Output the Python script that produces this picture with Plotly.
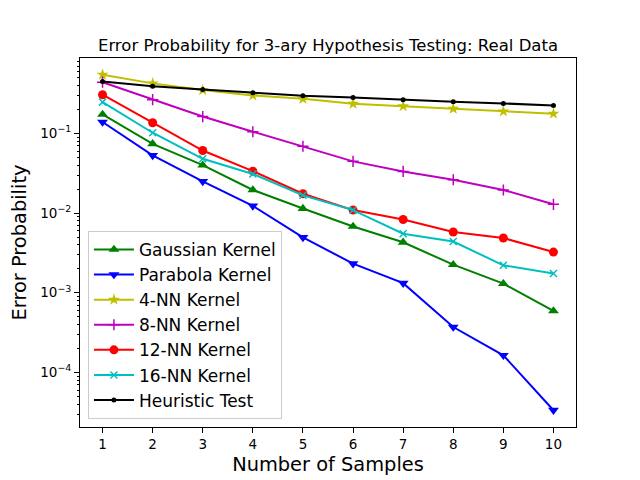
import plotly.graph_objects as go
import numpy as np

samples = [1, 2, 3, 4, 5, 6, 7, 8, 9, 10]
gaussian = [0.173, 0.074, 0.040, 0.0195, 0.0114, 0.0068, 0.0043, 0.00225, 0.0013, 0.00059]
parabola = [0.139, 0.053, 0.025, 0.0123, 0.00495, 0.00232, 0.00132, 0.000371, 0.000164, 0.0000335]
nn4 = [0.545, 0.425, 0.35, 0.30, 0.272, 0.236, 0.22, 0.204, 0.189, 0.177]
nn8 = [0.44, 0.265, 0.163, 0.105, 0.069, 0.0446, 0.0333, 0.0262, 0.0195, 0.0129]
nn12 = [0.306, 0.136, 0.061, 0.0336, 0.0175, 0.0109, 0.0083, 0.00578, 0.00486, 0.00324]
nn16 = [0.247, 0.102, 0.048, 0.031, 0.0167, 0.0109, 0.0055, 0.0044, 0.00221, 0.00174]
heuristic = [0.45, 0.39, 0.356, 0.324, 0.297, 0.283, 0.265, 0.25, 0.238, 0.224]

series = [
    ("Gaussian Kernel", gaussian, "#008000", "triangle-up", 9.5, 0),
    ("Parabola Kernel", parabola, "#0000ff", "triangle-down", 9.5, 0),
    ("4-NN Kernel", nn4, "#bfbf00", "star", 9, 0),
    ("8-NN Kernel", nn8, "#bf00bf", "cross-thin-open", 8, 1.5),
    ("12-NN Kernel", nn12, "#ff0000", "circle", 9, 0),
    ("16-NN Kernel", nn16, "#00bfbf", "x-thin-open", 7, 1.5),
    ("Heuristic Test", heuristic, "#000000", "circle", 5, 0),
]

fig = go.Figure()
for name, vals, col, sym, sz, lw in series:
    fig.add_trace(go.Scatter(
        x=samples, y=vals, name=name, mode="lines+markers",
        line=dict(color=col, width=2),
        marker=dict(symbol=sym, size=sz, color=col, line=dict(color=col, width=lw)),
    ))

allv = np.concatenate([np.log10(v) for _, v, *_ in series])
lo, hi = allv.min(), allv.max()
m = 0.05 * (hi - lo)

major = [1e-4, 1e-3, 1e-2, 1e-1]
minor_vals = [k * 10.0 ** e for e in range(-5, 0) for k in range(2, 10)]

font = "DejaVu Sans"
# page body has an 8px margin, so the figure is drawn 8px smaller and shifted
fig.update_layout(
    width=632, height=472,
    margin=dict(l=72, r=64, t=49.6, b=52.8, autoexpand=False),
    paper_bgcolor="white", plot_bgcolor="white",
    font=dict(family=font, color="black", size=14),
    title=dict(text="Error Probability for 3-ary Hypothesis Testing: Real Data",
               x=0.5, xref="paper", xanchor="center",
               y=1, yref="paper", yanchor="bottom", pad=dict(b=7),
               font=dict(size=16.5, family=font), automargin=False),
    legend=dict(x=0.016, y=0.022, xanchor="left", yanchor="bottom",
                bgcolor="rgba(255,255,255,0.8)", bordercolor="#cccccc", borderwidth=1,
                font=dict(size=17, family=font), itemwidth=40, tracegroupgap=0),
    showlegend=True,
)
fig.update_xaxes(
    range=[0.55, 10.45], tickvals=samples, ticktext=[str(s) for s in samples],
    showgrid=False, zeroline=False, showline=True, linecolor="black", linewidth=1,
    mirror=True, ticks="outside", ticklen=5, tickcolor="black",
    tickfont=dict(size=13.5), automargin=False,
    title=dict(text="Number of Samples", font=dict(size=19.4), standoff=6),
)
fig.update_yaxes(
    type="log", range=[lo - m, hi + m],
    tickvals=major, ticktext=["10<sup>−4</sup>", "10<sup>−3</sup>", "10<sup>−2</sup>", "10<sup>−1</sup>"],
    minor=dict(tickvals=minor_vals, ticks="outside", ticklen=2.5, tickcolor="black", showgrid=False),
    showgrid=False, zeroline=False, showline=True, linecolor="black", linewidth=1,
    mirror=True, ticks="outside", ticklen=5, tickcolor="black",
    tickfont=dict(size=13.5), automargin=False,
    title=dict(text="Error Probability", font=dict(size=19.4), standoff=8),
)
fig.write_html("out.html")
